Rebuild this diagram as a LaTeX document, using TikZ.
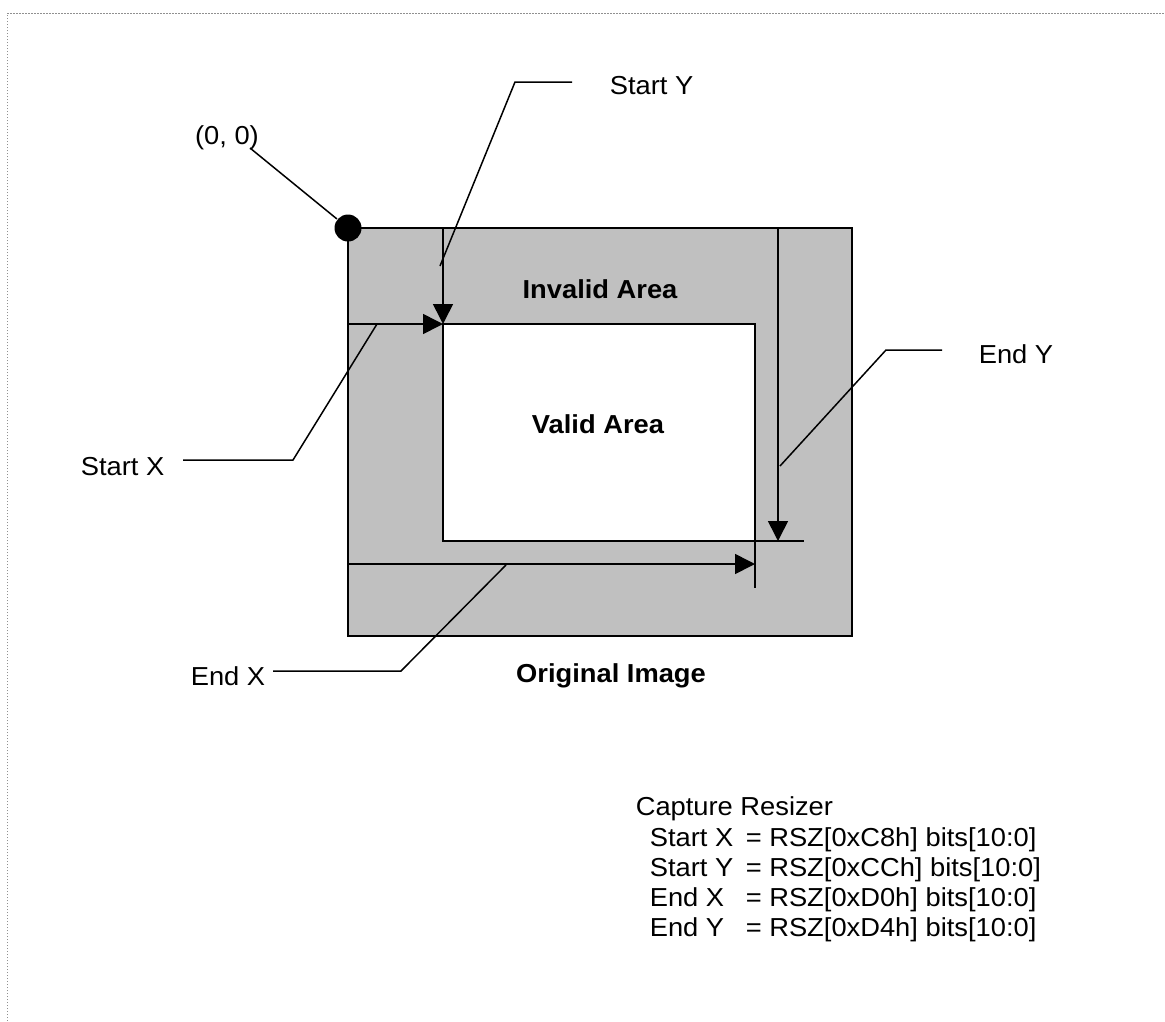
\documentclass[tikz,border=0pt]{standalone}
\usepackage{fontspec}
\setmainfont{Liberation Sans}[FakeStretch=1.05]
\usetikzlibrary{arrows.meta}
\definecolor{grayfill}{HTML}{C0C0C0}
\definecolor{bordergray}{HTML}{909090}
\begin{document}
\begin{tikzpicture}[x=1pt,y=-1pt,line width=1.6pt,
  lbl/.style={font=\fontsize{26}{30}\selectfont,inner sep=0pt},
  blbl/.style={font=\fontsize{26}{30}\selectfont\bfseries,inner sep=0pt},
  arr/.style={-{Triangle[length=20pt,width=20pt]}},
  lead/.style={line width=1.5pt},
  box/.style={draw,inner sep=0pt,outer sep=0pt,anchor=north west}]
\useasboundingbox (0,0) rectangle (1165,1021);
% page border (dotted, top and left)
\coordinate (bl) at (7,1021);
\coordinate (tl) at (7,13);
\coordinate (tr) at (1165,13);
\draw[bordergray,line width=1pt,dash pattern=on 1.5pt off 1.5pt] (bl) -- (tl) -- (tr);
% rectangles
\node[box,fill=grayfill,minimum width=504pt,minimum height=408pt] (orig) at (348,228) {};
\node[box,fill=white,minimum width=312pt,minimum height=217pt] (valid) at (443,324) {};
% arrows
\coordinate (sy0) at (443,228);
\coordinate (sx0) at (348,324);
\draw[arr] (sy0) -- (valid.north west);
\draw[arr] (sx0) -- (valid.north west);
\coordinate (ey0) at (778,228);
\coordinate (ey1) at (778,541);
\coordinate (eyt) at (804,541);
\draw[arr] (ey0) -- (ey1);
\draw (valid.south east) -- (eyt);
\coordinate (ex0) at (348,564);
\coordinate (ex1) at (755,564);
\coordinate (ext) at (755,588);
\draw[arr] (ex0) -- (ex1);
\draw (valid.south east) -- (ext);
% origin dot
\node[circle,fill=black,minimum size=27pt,inner sep=0pt] (origin) at (orig.north west) {};
\node[lbl,anchor=base] (zlab) at (227,144) {(0, 0)};
\coordinate (zl) at (250,148);
\draw[lead] (zl) -- (origin);
% area labels
\node[blbl,anchor=base] (inv) at (600,298) {Invalid Area};
\node[blbl,anchor=base] (val) at (598,433) {Valid Area};
\node[blbl,anchor=base] (oi) at (611,682) {Original Image};
% leaders
\node[lbl,anchor=base west] (sylab) at (609,94) {Start Y};
\coordinate (syA) at (572,82);
\coordinate (syB) at (515,82);
\coordinate (syC) at (440,266);
\draw[lead] (syA) -- (syB) -- (syC);
\node[lbl,anchor=base west] (sxlab) at (80,475) {Start X};
\coordinate (sxA) at (183,460);
\coordinate (sxB) at (293,460);
\coordinate (sxC) at (377,324);
\draw[lead] (sxA) -- (sxB) -- (sxC);
\node[lbl,anchor=base west] (eylab) at (978,363) {End Y};
\coordinate (eyA) at (942,350);
\coordinate (eyB) at (886,350);
\coordinate (eyC) at (780,466);
\draw[lead] (eyA) -- (eyB) -- (eyC);
\node[lbl,anchor=base west] (exlab) at (190,685) {End X};
\coordinate (exA) at (273,671);
\coordinate (exB) at (401,671);
\coordinate (exC) at (506,565);
\draw[lead] (exA) -- (exB) -- (exC);
% register text
\node[lbl,anchor=base west] (cap) at (635,815) {Capture Resizer};
\node[lbl,anchor=base west] (r1n) at (649,846) {Start X};
\node[lbl,anchor=base west] (r1v) at (745,846) {= RSZ[0xC8h] bits[10:0]};
\node[lbl,anchor=base west] (r2n) at (649,876) {Start Y};
\node[lbl,anchor=base west] (r2v) at (745,876) {= RSZ[0xCCh] bits[10:0]};
\node[lbl,anchor=base west] (r3n) at (649,906) {End X};
\node[lbl,anchor=base west] (r3v) at (745,906) {= RSZ[0xD0h] bits[10:0]};
\node[lbl,anchor=base west] (r4n) at (649,936) {End Y};
\node[lbl,anchor=base west] (r4v) at (745,936) {= RSZ[0xD4h] bits[10:0]};
\end{tikzpicture}
\end{document}
